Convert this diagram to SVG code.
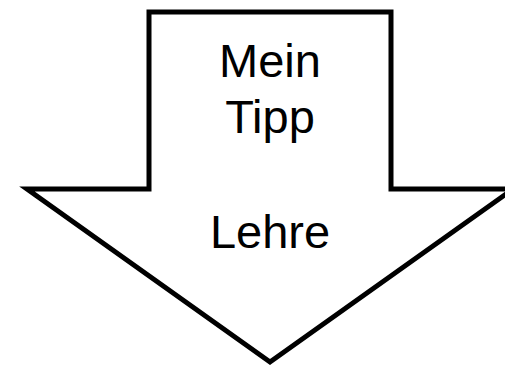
<svg xmlns="http://www.w3.org/2000/svg" width="505" height="371" viewBox="0 0 505 371">
<style>
.shape{fill:#fff;stroke:#000;stroke-width:5;stroke-linejoin:miter;stroke-miterlimit:10}
.lbl{font-family:"Liberation Sans",Arial,sans-serif;font-size:47px;fill:#000;text-anchor:middle}
</style>
<rect width="505" height="371" fill="#fff"/>
<g id="arrow">
<path class="shape" d="M149,12 H391 V189 H513 L270,362 L27,189 H149 Z"/>
<text class="lbl" x="270" y="77">Mein</text>
<text class="lbl" x="270" y="133">Tipp</text>
<text class="lbl" x="270" y="248">Lehre</text>
</g>
<g id="connectors"></g>
</svg>
